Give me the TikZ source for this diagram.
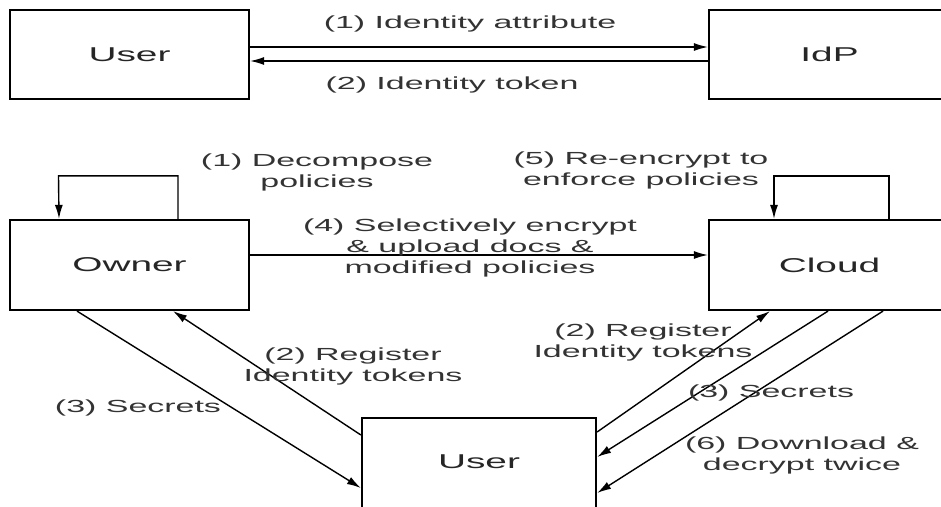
\documentclass[tikz,border=0pt]{standalone}
\usepackage{fontspec}
\newfontfamily\lblfont{Liberation Sans}[FakeStretch=1.94]
\usetikzlibrary{arrows.meta}
\begin{document}
\begin{tikzpicture}[x=1pt,y=-1pt,
  box/.style={draw=black, line width=2.2pt, minimum width=239pt, minimum height=89pt, inner sep=0pt,
    font=\lblfont\fontsize{20}{24}\selectfont, text=black!85},
  lbl/.style={font=\lblfont\fontsize{17.5}{21}\selectfont, text=black!80, align=center, inner sep=0pt},
  arr/.style={line width=1.4pt, -{Latex[length=14pt,width=8pt]}},
  ln/.style={line width=1.4pt}]
\clip (0,0) rectangle (941,506);
\fill[white] (0,0) rectangle (941,506);

% boxes
\node[box] (userT) at (129.5,54.5) {User};
\node[box, minimum width=241pt] (idp) at (829.5,54.5) {IdP};
\node[box, minimum height=90pt] (owner) at (129.5,265) {Owner};
\node[box, minimum width=241pt, minimum height=90pt] (cloud) at (829.5,265) {Cloud};
\node[box, minimum width=234pt, minimum height=96pt,
  label={[box, draw=none, minimum width=0pt, minimum height=0pt, yshift=4pt]center:User}] (userB) at (479,466) {};

% top exchange
\draw[arr] ([yshift=7.5pt]userT.east) -- ([yshift=7.5pt]idp.west);
\draw[arr] ([yshift=-6.5pt]idp.west) -- ([yshift=-6.5pt]userT.east);
\node[lbl] (l1) at (470,24) {(1) Identity attribute};
\node[lbl] (l2) at (452,85) {(2) Identity token};

% owner loop
\draw[arr] ([xshift=48.5pt]owner.north) |- ++(-119.5,-43) -- ([xshift=-70.5pt]owner.north);
\node[lbl] (ld) at (317,172) {(1) Decompose\\policies};

% cloud loop
\draw[arr] ([xshift=59.5pt]cloud.north) |- ++(-115,-43) -- ([xshift=-55.5pt]cloud.north);
\node[lbl] (lr) at (641,170) {(5) Re-encrypt to\\enforce policies};

% upload
\draw[arr] ([yshift=10pt]owner.east) -- ([yshift=10pt]cloud.west);
\node[lbl] (lu) at (470,248) {(4) Selectively encrypt\\\& upload docs \&\\modified policies};

% owner <-> bottom user
\draw[arr] ([xshift=-52.5pt]owner.south) -- ([yshift=-22pt]userB.west);
\draw[arr] ([yshift=31pt]userB.west) -- ([xshift=43.5pt]owner.south);
\node[lbl] (lreg1) at (353,366) {(2) Register\\Identity tokens};
\node[lbl] (lsec1) at (138,408) {(3) Secrets};

% cloud <-> bottom user
\draw[arr] ([yshift=34pt]userB.east) -- ([xshift=-59.5pt]cloud.south);
\draw[arr] ([xshift=-1.5pt]cloud.south) -- ([yshift=9pt]userB.east);
\draw[arr] ([xshift=53.5pt]cloud.south) -- ([yshift=-27pt]userB.east);
\node[lbl] (lreg2) at (643,342) {(2) Register\\Identity tokens};
\node[lbl] (lsec2) at (771,393) {(3) Secrets};
\node[lbl] (ldl) at (802,455) {(6) Download \&\\decrypt twice};
\end{tikzpicture}
\end{document}
